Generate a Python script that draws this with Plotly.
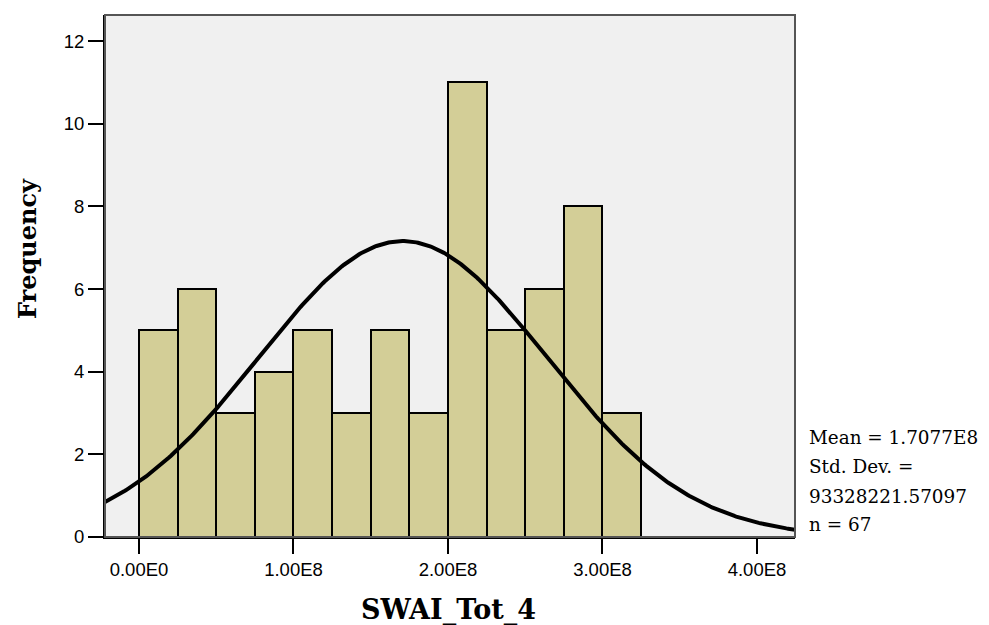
import numpy as np
import plotly.graph_objects as go

# Data
bin_start = 0.0
bin_width = 0.25e8
counts = [5, 6, 3, 4, 5, 3, 5, 3, 11, 5, 6, 8, 3]
mean_val = 1.7077e8
std_val = 93328221.57097
n_val = 67
x_tick_vals = [0, 1e8, 2e8, 3e8, 4e8]
x_tick_text = ["0.00E0", "1.00E8", "2.00E8", "3.00E8", "4.00E8"]
y_tick_vals = [0, 2, 4, 6, 8, 10, 12]
stats_lines = ["Mean = 1.7077E8", "Std. Dev. =", "93328221.57097", "n = 67"]

x_range = [-0.22e8, 4.246e8]
y_range = [0, 12.63]

centers = [bin_start + bin_width * (i + 0.5) for i in range(len(counts))]

xs = np.linspace(x_range[0], x_range[1], 400)
ys = n_val * bin_width * np.exp(-0.5 * ((xs - mean_val) / std_val) ** 2) / (std_val * np.sqrt(2 * np.pi))

fig = go.Figure()
fig.add_trace(go.Bar(
    x=centers, y=counts, width=bin_width,
    marker=dict(color="#d3ce97", line=dict(color="black", width=2)),
    hoverinfo="skip",
))
fig.add_trace(go.Scatter(
    x=xs, y=ys, mode="lines",
    line=dict(color="black", width=4),
    hoverinfo="skip",
))

annotations = []
line_shifts = [100, 71, 41, 13]
for txt, ys_ in zip(stats_lines, line_shifts):
    annotations.append(dict(
        xref="paper", yref="paper", x=1, y=0, xanchor="left", yanchor="middle",
        xshift=12, yshift=ys_, align="left", showarrow=False, text=txt,
        font=dict(family="DejaVu Serif", size=18.4, color="black"),
    ))
annotations.append(dict(
    xref="paper", yref="paper", x=0.5, y=0, xanchor="center", yanchor="middle",
    xshift=-2, yshift=-73, showarrow=False, text="<b>SWAI_Tot_4</b>",
    font=dict(family="DejaVu Serif", size=27, color="black"),
))
annotations.append(dict(
    xref="paper", yref="paper", x=0, y=0.5, xanchor="center", yanchor="middle",
    xshift=-78, yshift=27, textangle=-90, showarrow=False, text="<b>Frequency</b>",
    font=dict(family="DejaVu Serif", size=24, color="black"),
))

fig.update_layout(
    width=981, height=617,
    margin=dict(l=97, r=194, t=7, b=88),
    paper_bgcolor="white",
    plot_bgcolor="#f0f0f0",
    showlegend=False,
    bargap=0,
    shapes=[dict(type="rect", xref="paper", yref="paper", x0=0, y0=0, x1=1, y1=1,
                 line=dict(color="#555555", width=2), layer="above")],
    annotations=annotations,
)

fig.update_xaxes(
    range=x_range, tickvals=x_tick_vals, ticktext=x_tick_text,
    ticks="outside", ticklen=15, tickwidth=2, tickcolor="black",
    showline=True, linecolor="black", linewidth=2,
    showgrid=False, zeroline=False,
    tickfont=dict(family="Liberation Sans", size=18.5, color="black"),
)
fig.update_yaxes(
    range=y_range, tickvals=y_tick_vals,
    ticks="outside", ticklen=15, tickwidth=2, tickcolor="black",
    showline=True, linecolor="black", linewidth=2,
    showgrid=False, zeroline=False,
    tickfont=dict(family="Liberation Sans", size=18.5, color="black"),
)

fig.write_html("out.html")
